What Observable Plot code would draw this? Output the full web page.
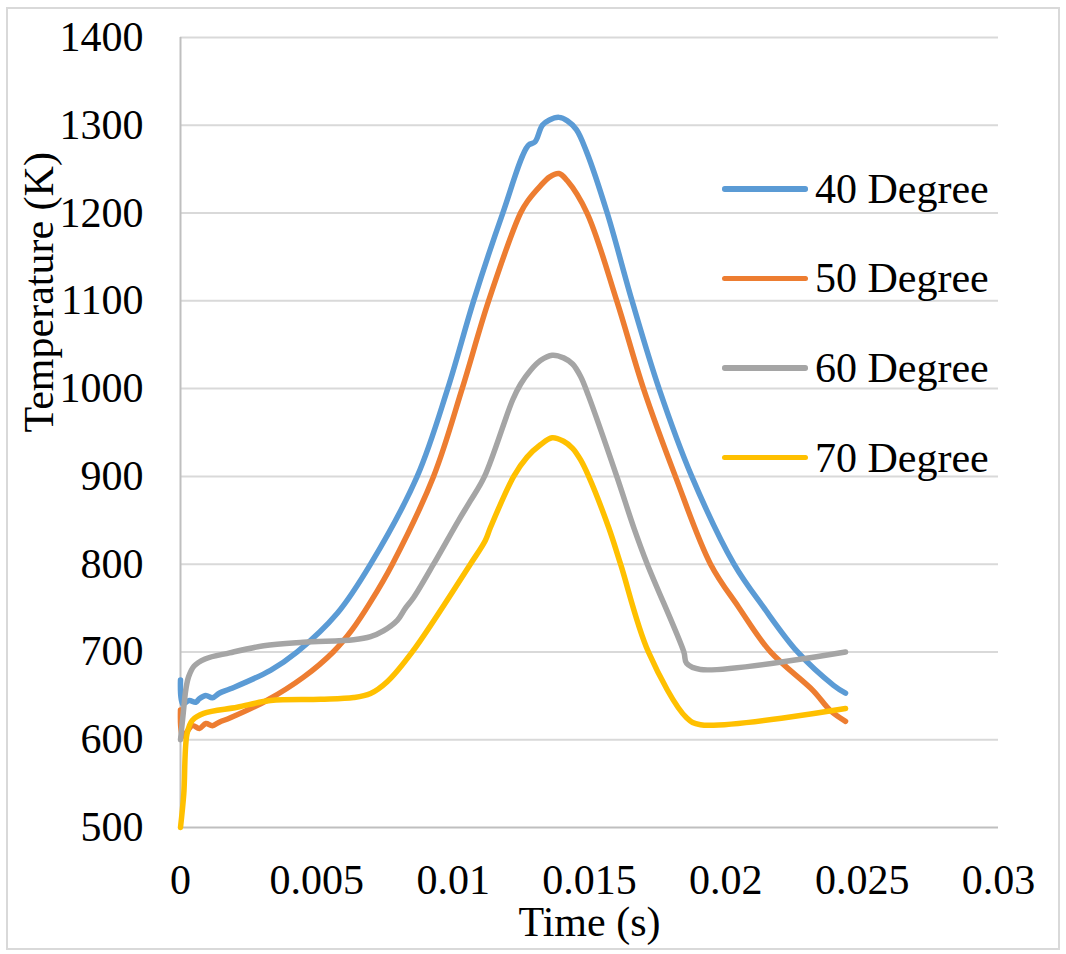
<!DOCTYPE html>
<html>
<head>
<meta charset="utf-8">
<script src="https://cdn.jsdelivr.net/npm/d3@7"></script>
<script src="https://cdn.jsdelivr.net/npm/@observablehq/plot@0.6"></script>
<style>
  html, body { margin: 0; padding: 0; background: #fff; }
  #wrap { position: relative; width: 1066px; height: 954px; overflow: hidden; font-family: "Liberation Serif", "Times New Roman", serif; }
  #border { position: absolute; left: 6px; top: 7px; width: 1054px; height: 943px; border: 2px solid #D9D9D9; box-sizing: border-box; pointer-events: none; }
  #chart { position: absolute; left: 0; top: 0; }
  #chart svg, #chart svg text { font-family: "Liberation Serif", "Times New Roman", serif !important; }
  #legend { position: absolute; left: 722px; top: 144px; }
  .item { display: flex; align-items: center; height: 89.6px; }
  .sw { width: 86px; height: 5.5px; border-radius: 2.75px; margin-right: 7px; }
  .lab { font-size: 42px; line-height: 1; color: #000; white-space: nowrap; }
</style>
</head>
<body>
<div id="wrap">
  <div id="chart"></div>
  <div id="legend"></div>
  <div id="border"></div>
</div>
<script>
// ---- data ----
const seriesNames = ["40 Degree", "50 Degree", "60 Degree", "70 Degree"];
const seriesColors = ["#5B9BD5", "#ED7D31", "#A5A5A5", "#FFC000"];

const time40 = [0, 0.00008, 0.00032, 0.00056, 0.00069, 0.00093, 0.00117, 0.00142, 0.00183, 0.0033, 0.00428, 0.00575, 0.00697, 0.00868, 0.0098, 0.01075, 0.01182, 0.01275, 0.0130, 0.01327, 0.01353, 0.01388, 0.01419, 0.01452, 0.01489, 0.01565, 0.01656, 0.01755, 0.01875, 0.0203, 0.02138, 0.02263, 0.02395, 0.02439];
const temp40 = [668, 641, 644.7, 642.7, 646.6, 650.4, 647.7, 653, 658, 679, 700, 744, 800, 900, 1000, 1100, 1200, 1277, 1281, 1300, 1306, 1309, 1305, 1295, 1270, 1200, 1100, 1000, 900, 800, 751, 700, 662, 653];

const time50 = [0, 0.00008, 0.00044, 0.00069, 0.00093, 0.00117, 0.00142, 0.00183, 0.00318, 0.0045, 0.0056, 0.00631, 0.00697, 0.00777, 0.00928, 0.01033, 0.0113, 0.01247, 0.01274, 0.0132, 0.01353, 0.01388, 0.01418, 0.01491, 0.0160, 0.01698, 0.01815, 0.01944, 0.02047, 0.02164, 0.0232, 0.02384, 0.02439];
const temp50 = [634, 604, 616, 612.8, 618.5, 616, 620, 625, 645, 671, 700, 726, 757, 800, 900, 1000, 1100, 1200, 1214, 1231, 1241, 1245, 1237, 1200, 1100, 1000, 900, 800, 751, 700, 656, 633, 621];

const time60 = [0, 0.0001, 0.0002, 0.0003, 0.0005, 0.0009, 0.0018, 0.00305, 0.0045, 0.00635, 0.00697, 0.00744, 0.00795, 0.00825, 0.00855, 0.00928, 0.0102, 0.01063, 0.01115, 0.01218, 0.01247, 0.01284, 0.0132, 0.01363, 0.01405, 0.01438, 0.01467, 0.01496, 0.0160, 0.01662, 0.01712, 0.01846, 0.01856, 0.01907, 0.02439];
const temp60 = [600, 630, 658, 672, 684, 692, 699, 707, 711, 714, 717.5, 724, 736, 750, 762, 800, 850, 872, 900, 987, 1005, 1021, 1032, 1038, 1035, 1028, 1014, 992, 900, 842, 800, 700, 687, 680, 700];

const time70 = [0, 0.00012, 0.00024, 0.00043, 0.00085, 0.00208, 0.0033, 0.00513, 0.00635, 0.00697, 0.00758, 0.0085, 0.01063, 0.01118, 0.01137, 0.01222, 0.01271, 0.0132, 0.01363, 0.01405, 0.01438, 0.01467, 0.01497, 0.0157, 0.01614, 0.01716, 0.01856, 0.01907, 0.02439];
const temp70 = [500, 538, 607, 622, 630, 637, 644.6, 646, 648, 652.6, 666, 700, 800, 827, 842, 900, 922, 936, 944, 940, 932, 919, 900, 842, 800, 700, 625, 617, 635.5];

const xTicks = [0, 0.005, 0.01, 0.015, 0.02, 0.025, 0.03];
const xTickLabels = ["0", "0.005", "0.01", "0.015", "0.02", "0.025", "0.03"];
const yTicks = [500, 600, 700, 800, 900, 1000, 1100, 1200, 1300, 1400];
const xLabel = "Time (s)";
const yLabel = "Temperature (K)";

// ---- build ----
const FONT = "'Liberation Serif', 'Times New Roman', serif";
const times = [time40, time50, time60, time70];
const temps = [temp40, temp50, temp60, temp70];
const rows = [];
times.forEach((ts, s) => ts.forEach((t, i) => rows.push({series: seriesNames[s], t, T: temps[s][i]})));

const lineMarks = seriesNames.map((name, s) =>
  Plot.line(rows.filter(r => r.series === name), {
    x: "t", y: "T", stroke: seriesColors[s], strokeWidth: 5.5,
    curve: "catmull-rom", strokeLinecap: "round", strokeLinejoin: "round"
  })
);

const chart = Plot.plot({
  width: 1066,
  height: 954,
  marginLeft: 180,
  marginRight: 68,
  marginTop: 37,
  marginBottom: 127,
  style: {
    fontFamily: FONT,
    fontSize: "42px",
    color: "#000",
    background: "transparent",
    overflow: "visible"
  },
  x: {domain: [0, 0.03]},
  y: {domain: [500, 1400]},
  marks: [
    Plot.gridY(yTicks.slice(1), {stroke: "#D9D9D9", strokeOpacity: 1, strokeWidth: 2}),
    Plot.ruleX([0], {stroke: "#BFBFBF", strokeWidth: 2}),
    Plot.ruleY([500], {stroke: "#BFBFBF", strokeWidth: 2}),
    ...lineMarks,
    Plot.axisX(xTicks, {tickSize: 0, tickPadding: 37, label: null, fontSize: 42, fontFamily: FONT,
      tickFormat: d => xTickLabels[xTicks.indexOf(d)]}),
    Plot.axisY(yTicks, {tickSize: 0, tickPadding: 37, label: null, fontSize: 42, fontFamily: FONT,
      tickFormat: d => String(d)}),
    Plot.text([yLabel], {frameAnchor: "left", dx: -141, rotate: -90, fontSize: 42, fontFamily: FONT, fill: "#000"}),
    Plot.text([xLabel], {frameAnchor: "bottom", dy: 108, fontSize: 42, fontFamily: FONT, fill: "#000"})
  ]
});
document.getElementById("chart").appendChild(chart);

const legend = document.getElementById("legend");
seriesNames.forEach((name, s) => {
  const item = document.createElement("div");
  item.className = "item";
  const sw = document.createElement("div");
  sw.className = "sw";
  sw.style.background = seriesColors[s];
  const lab = document.createElement("div");
  lab.className = "lab";
  lab.textContent = name;
  item.appendChild(sw);
  item.appendChild(lab);
  legend.appendChild(item);
});
</script>
</body>
</html>
